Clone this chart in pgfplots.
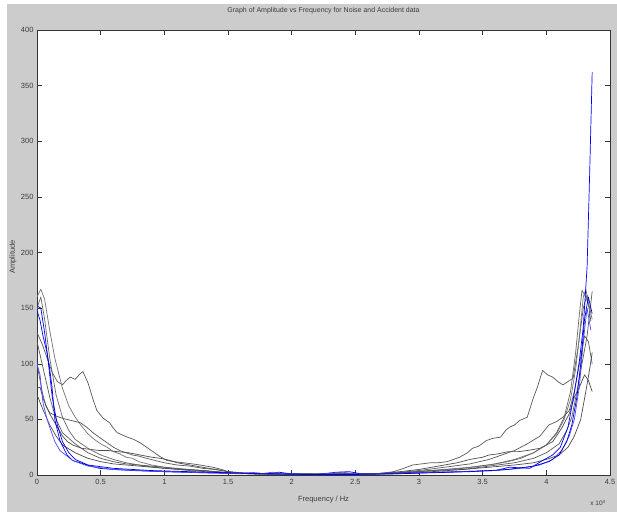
\documentclass[border=0pt]{standalone}
\usepackage{pgfplots}
\pgfplotsset{compat=1.18}
\usepackage{fontspec}
\setmainfont{Liberation Sans}
\definecolor{figgray}{RGB}{204,204,204}
\definecolor{txt}{RGB}{60,60,60}
\begin{document}
\begin{tikzpicture}
\path[use as bounding box] (0,0) rectangle (617pt,512pt);
\fill[white] (0,0) rectangle (617pt,512pt);
\fill[figgray] (7pt,0) rectangle (617pt,508pt);
\begin{axis}[
  at={(37pt,37pt)}, anchor=south west,
  scale only axis, width=573pt, height=445pt,
  xmin=0, xmax=4.5, ymin=0, ymax=400,
  axis background/.style={fill=white},
  axis line style={black!80, line width=0.5pt},
  tick style={black!80, line width=0.5pt},
  major tick length=5pt,
  tick align=inside,
  xtick={0,0.5,1,1.5,2,2.5,3,3.5,4,4.5},
  xticklabels={0,0.5,1,1.5,2,2.5,3,3.5,4,4.5},
  ytick={0,50,100,150,200,250,300,350,400},
  yticklabels={0,50,100,150,200,250,300,350,400},
  tick label style={font=\fontsize{7.5}{8}\selectfont, text=txt},
  xticklabel style={yshift=-1pt},
  title={Graph of Amplitude vs Frequency for Noise and Accident data},
  title style={font=\fontsize{7}{8}\selectfont, text=txt, at={(axis description cs:0.5,1.029)}, anchor=center},
  xlabel={Frequency / Hz},
  xlabel style={font=\fontsize{7.5}{8}\selectfont, text=txt, at={(axis description cs:0.5,-0.056)}, anchor=center},
  ylabel={Amplitude},
  ylabel style={font=\fontsize{7.5}{8}\selectfont, text=txt, at={(axis description cs:-0.042,0.49)}, anchor=center},
  every axis plot/.append style={line width=0.7pt, line join=round},
]
% black / grey curves
\addplot[black!65] coordinates {(0,128)(0.04,118)(0.08,105)(0.12,92)(0.16,84)(0.2,81)(0.23,85)(0.26,88)(0.3,86)(0.33,90)(0.36,93)(0.4,83)(0.44,68)(0.47,58)(0.52,51)(0.57,47)(0.6,42)(0.63,38)(0.67,36)(0.71,34)(0.76,32)(0.81,29)(0.86,25)(0.91,21)(0.96,17)(1.02,13)(1.08,12)(1.15,11)(1.22,10)(1.28,9)(1.33,8)(1.38,7)(1.45,5)(1.5,3)(1.6,1.5)(1.8,1)(2.0,0.8)(2.2,0.8)(2.5,1)(2.7,1.5)(2.8,3)(2.88,6)(2.95,9)(3.02,10)(3.09,11)(3.15,11)(3.22,12)(3.27,14)(3.32,16)(3.38,20)(3.42,24)(3.47,26)(3.53,31)(3.58,33)(3.64,34)(3.68,40)(3.71,43)(3.75,45)(3.79,49)(3.85,52)(3.9,70)(3.93,79)(3.97,94)(4.01,90)(4.05,88)(4.09,84)(4.13,81)(4.17,84)(4.21,87)(4.25,115)(4.29,150)(4.32,162)(4.35,138)};
\addplot[black!55] coordinates {(0,160)(0.03,167)(0.06,158)(0.1,130)(0.14,105)(0.2,78)(0.25,62)(0.3,52)(0.35,44)(0.4,37)(0.45,32)(0.5,28)(0.55,25)(0.6,21)(0.65,19)(0.7,16)(0.75,15)(0.8,12)(0.9,9)(1.0,7)(1.2,5)(1.4,3)(1.6,1.5)(1.9,1)(2.3,1)(2.6,1)(2.8,2)(3.0,3)(3.2,5)(3.4,7)(3.6,10)(3.75,14)(3.9,20)(4.0,27)(4.08,37)(4.14,50)(4.19,68)(4.23,95)(4.26,125)(4.29,160)(4.31,167)(4.33,155)(4.36,140)};
\addplot[black!65] coordinates {(0,100)(0.04,75)(0.07,62)(0.1,56)(0.15,53)(0.2,51)(0.27,49)(0.34,47)(0.39,43)(0.44,38)(0.5,33)(0.55,29)(0.6,25)(0.65,22)(0.7,20)(0.75,18)(0.8,17)(0.86,15)(0.93,13)(1.0,11)(1.1,9)(1.2,8)(1.3,6)(1.4,5)(1.5,3)(1.6,2)(1.9,1)(2.3,1)(2.6,1)(2.8,2)(3.0,4)(3.2,7)(3.4,10)(3.55,14)(3.65,18)(3.75,22)(3.85,28)(3.95,35)(4.02,45)(4.08,48)(4.13,52)(4.18,58)(4.22,75)(4.26,100)(4.3,125)(4.33,120)(4.36,100)};
\addplot[black!70] coordinates {(0,78)(0.024,79)(0.05,68)(0.1,55)(0.15,45)(0.2,35)(0.24,30)(0.28,27)(0.35,24)(0.42,23)(0.49,22)(0.56,22)(0.63,21)(0.72,20)(0.81,18)(0.9,16)(0.97,15)(1.05,13)(1.1,11)(1.2,9)(1.3,7)(1.4,5)(1.5,3)(1.6,2)(1.9,1)(2.3,1)(2.7,1.5)(2.85,3)(3.0,5)(3.1,7)(3.2,9)(3.3,11)(3.4,14)(3.5,16)(3.55,18)(3.62,19)(3.7,21)(3.78,21)(3.85,22)(3.95,24)(4.05,30)(4.12,42)(4.18,55)(4.22,70)(4.26,79)(4.3,90)(4.33,85)(4.36,75)};
\addplot[black!60] coordinates {(0,150)(0.03,160)(0.06,140)(0.1,105)(0.15,72)(0.2,52)(0.25,40)(0.3,32)(0.35,28)(0.4,24)(0.5,18)(0.6,14)(0.7,11)(0.85,8)(1.0,6)(1.2,4)(1.45,2)(1.7,1)(2.0,0.8)(2.4,0.8)(2.7,1)(2.85,2)(3.1,4)(3.35,6)(3.55,9)(3.7,12)(3.8,15)(3.9,20)(4.0,27)(4.08,38)(4.14,52)(4.19,75)(4.23,110)(4.26,145)(4.28,166)(4.31,160)(4.34,150)};
\addplot[black!65] coordinates {(0,120)(0.05,95)(0.1,70)(0.15,50)(0.2,38)(0.3,28)(0.4,20)(0.5,15)(0.6,12)(0.7,10)(0.8,9)(1.0,7)(1.15,5)(1.3,4)(1.5,2)(1.7,1)(2.0,0.8)(2.4,0.8)(2.7,1)(2.85,2)(3.1,4)(3.35,5)(3.55,8)(3.75,11)(3.9,15)(4.0,20)(4.1,28)(4.16,40)(4.2,52)(4.24,75)(4.28,100)(4.32,125)(4.36,165)};
\addplot[black!70] coordinates {(0,72)(0.05,58)(0.1,45)(0.15,35)(0.2,27)(0.3,20)(0.4,15)(0.5,12)(0.6,10)(0.8,8)(1.0,6)(1.3,4)(1.5,2)(1.7,1)(2.0,0.8)(2.4,0.8)(2.7,1)(2.85,2)(3.1,3)(3.35,5)(3.55,7)(3.75,9)(3.9,11)(4.0,14)(4.1,18)(4.17,25)(4.22,35)(4.27,50)(4.31,75)(4.34,95)(4.36,110)};
% blue curves
\addplot[blue] coordinates {(0,148)(0.024,139)(0.047,125)(0.079,110)(0.1,95)(0.118,79)(0.141,49)(0.18,31)(0.236,18)(0.28,13)(0.34,11)(0.42,8)(0.49,6)(0.6,5)(0.75,4)(1.0,3)(1.3,2)(1.5,1.5)(1.6,1)(1.7,2)(1.8,1)(1.9,2.5)(2.0,1)(2.2,0.5)(2.35,2.5)(2.45,3)(2.55,1)(2.7,1)(3.0,2)(3.3,3)(3.6,4)(3.71,7)(3.87,6)(3.97,13)(4.05,18)(4.11,25)(4.17,43)(4.22,74)(4.26,103)(4.29,133)(4.32,187)(4.34,270)(4.36,362)};
\addplot[blue!70!white] coordinates {(0,100)(0.024,90)(0.047,65)(0.079,50)(0.1,43)(0.14,30)(0.18,22)(0.28,13)(0.4,8)(0.6,5)(0.8,4)(1.0,3)(1.5,1.5)(1.75,1)(1.85,2.5)(1.95,1)(2.2,0.5)(2.4,2.5)(2.5,1)(2.8,1)(3.0,2)(3.3,3)(3.6,4)(3.8,6)(3.95,9)(4.05,14)(4.12,22)(4.18,35)(4.22,50)(4.26,80)(4.29,120)(4.32,150)(4.35,130)};
\addplot[blue!85!black] coordinates {(0,152)(0.03,150)(0.06,128)(0.09,100)(0.12,70)(0.16,45)(0.2,30)(0.25,20)(0.3,14)(0.4,9)(0.6,6)(0.9,4)(1.2,3)(1.5,2)(1.8,1)(2.1,0.5)(2.5,0.5)(2.8,1)(3.1,2)(3.4,3)(3.7,5)(3.9,8)(4.02,12)(4.1,18)(4.16,30)(4.2,45)(4.24,70)(4.27,100)(4.3,140)(4.33,160)(4.36,145)};
\end{axis}
\node[font=\fontsize{6.5}{7}\selectfont, text=txt] at (598pt,9pt) {x 10\textsuperscript{4}};
\end{tikzpicture}
\end{document}
